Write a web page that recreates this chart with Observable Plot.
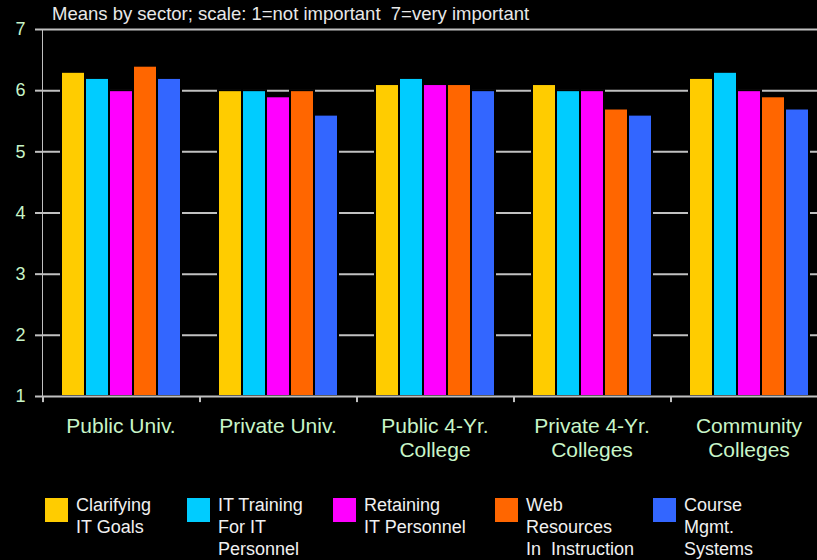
<!DOCTYPE html>
<html><head><meta charset="utf-8">
<script src="https://cdn.jsdelivr.net/npm/d3@7"></script>
<script src="https://cdn.jsdelivr.net/npm/@observablehq/plot@0.6"></script>
<style>
body{margin:0;background:#000;width:817px;height:560px;overflow:hidden;position:relative;font-family:"Liberation Sans",Arial,sans-serif}
#title{position:absolute;left:52px;top:3px;color:#e8e8e8;font-size:18.5px;white-space:pre}
#chart{position:absolute;left:0;top:0}
#chart svg{overflow:visible}
g[aria-label^="y-axis"] text{fill:#c8f5c8;stroke:none;font-size:18px}
g[aria-label^="y-axis"] line, g[aria-label^="y-axis"] path{stroke:#c0c0c0;stroke-width:2}
.item{position:absolute;top:498px}
.sw{position:absolute;left:0;top:0;width:23px;height:24px}
.lb{position:absolute;left:31px;top:-4px;color:#f0f0f0;font-size:18px;line-height:22px;white-space:pre}
</style></head>
<body>
<div id="title">Means by sector; scale: 1=not important  7=very important</div>
<div id="chart"></div>
<div id="legend"></div>
<script>
const groups = ["Public Univ.", "Private Univ.", "Public 4-Yr.\nCollege", "Private 4-Yr.\nColleges", "Community\nColleges"];
const series = ["Clarifying IT Goals", "IT Training For IT Personnel", "Retaining IT Personnel", "Web Resources In Instruction", "Course Mgmt. Systems"];
const legendLabels = ["Clarifying\nIT Goals", "IT Training\nFor IT\nPersonnel", "Retaining\nIT Personnel", "Web\nResources\nIn  Instruction", "Course\nMgmt.\nSystems"];
const colors = ["#FFCC00", "#00CCFF", "#FF00FF", "#FF6600", "#3366FF"];
const clarifying = [6.3, 6.0, 6.1, 6.1, 6.2];
const training   = [6.2, 6.0, 6.2, 6.0, 6.3];
const retaining  = [6.0, 5.9, 6.1, 6.0, 6.0];
const webRes     = [6.4, 6.0, 6.1, 5.7, 5.9];
const courseMgmt = [6.2, 5.6, 6.0, 5.6, 5.7];
const yTicks = [1, 2, 3, 4, 5, 6, 7];

const valueSets = [clarifying, training, retaining, webRes, courseMgmt];
const data = [];
groups.forEach((g, gi) => series.forEach((s, si) => data.push({group: g, series: s, value: valueSets[si][gi]})));

// layout
const fxRange = [42, 827];
const padOuter = 0.77;
const step = (fxRange[1] - fxRange[0]) / groups.length / (series.length + 2 * padOuter);

const chart = Plot.plot({
  width: 817, height: 470,
  marginLeft: 42, marginTop: 29, marginBottom: 74, marginRight: 0,
  style: {background: "transparent", color: "#c0c0c0", fontFamily: "Liberation Sans, Arial, sans-serif", fontSize: "18px"},
  fx: {domain: groups, range: fxRange, padding: 0, axis: null, label: null},
  x: {domain: series, paddingInner: 0, paddingOuter: padOuter, axis: null, label: null},
  y: {domain: [1, 7], ticks: yTicks, tickFormat: d => d, tickSize: 7, tickPadding: 10, line: true, label: null},
  color: {domain: series, range: colors},
  marks: [
    Plot.ruleY(yTicks.slice(1), {stroke: "#c0c0c0", strokeWidth: 2}),
    Plot.barY(data, {fx: "group", x: "series", y1: 1, y2: "value", fill: "series", stroke: "#000", strokeWidth: 2}),
    Plot.ruleY([1], {stroke: "#c0c0c0", strokeWidth: 2}),
    Plot.ruleX(groups, {fx: d => d, x: () => series[0], y1: 1, y2: 0.9, dx: -(padOuter + 0.5) * step, stroke: "#c0c0c0", strokeWidth: 2}),
    Plot.text(groups, {fx: d => d, y: () => 1, text: d => d, lineAnchor: "top", dy: 19, lineHeight: 1.143, fill: "#c8f5c8", fontSize: 21, fontFamily: "Liberation Sans, Arial, sans-serif"})
  ]
});
document.getElementById("chart").appendChild(chart);

const legendLefts = [45, 187, 333, 495, 653];
const legend = document.getElementById("legend");
series.forEach((s, i) => {
  const item = document.createElement("div");
  item.className = "item";
  item.style.left = legendLefts[i] + "px";
  const sw = document.createElement("div");
  sw.className = "sw"; sw.style.background = colors[i];
  const lb = document.createElement("div");
  lb.className = "lb"; lb.textContent = legendLabels[i];
  item.appendChild(sw); item.appendChild(lb);
  legend.appendChild(item);
});
</script>
</body></html>
